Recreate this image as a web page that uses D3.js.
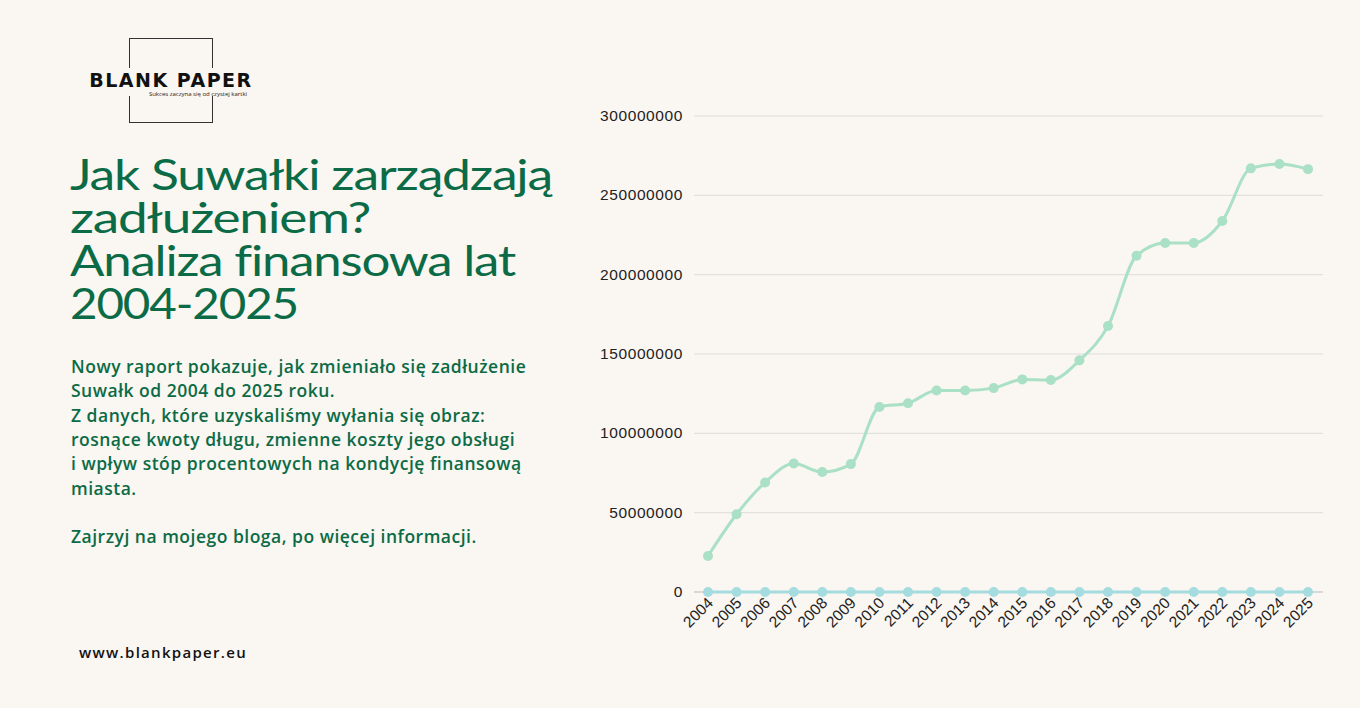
<!DOCTYPE html>
<html><head><meta charset="utf-8">
<script src="https://cdn.jsdelivr.net/npm/d3@7"></script>
<style>
body{margin:0;background:#faf6f1;width:1360px;height:708px;overflow:hidden;font-family:"Open Sans",sans-serif}
</style></head>
<body><svg id="c" width="1360" height="708"></svg>
<script>
const years = d3.range(2004, 2026).map(String);
const debt = [22.7e6,49e6,69e6,81e6,75.6e6,80.6e6,116.6e6,119e6,127e6,127e6,128.5e6,134e6,133.6e6,146e6,167.6e6,212e6,220e6,220e6,233.8e6,267e6,269.7e6,266.5e6];
const other = years.map(() => 0);
const yTicks = [0,50000000,100000000,150000000,200000000,250000000,300000000];

const svg = d3.select('#c');
const green = '#0b6b46';

// logo
svg.append('rect').attr('x',129.5).attr('y',38.5).attr('width',83).attr('height',84)
  .attr('fill','none').attr('stroke','#333').attr('stroke-width',1);
svg.append('rect').attr('x',92).attr('y',68).attr('width',158).attr('height',28).attr('fill','#faf6f1');
svg.append('text').attr('x',171).attr('y',87).attr('text-anchor','middle')
  .attr('font-family','DejaVu Sans').attr('font-weight','bold').attr('font-size',19)
  .attr('letter-spacing',1.5).attr('fill','#111').text('BLANK PAPER');
svg.append('text').attr('x',198).attr('y',96).attr('text-anchor','middle')
  .attr('font-size',6).attr('fill','#222').text('Sukces zaczyna się od czystej kartki');

// title
const title = ['Jak Suwałki zarządzają','zadłużeniem?','Analiza finansowa lat','2004-2025'];
const titleW = [482,300,445,228];
svg.append('g').selectAll('text').data(title).join('text')
  .attr('x',70).attr('y',(d,i)=>190+i*43).attr('font-size',43).attr('letter-spacing',-1)
  .attr('textLength',(d,i)=>titleW[i]).attr('lengthAdjust','spacingAndGlyphs')
  .attr('font-family','Lato').attr('fill',green).text(d=>d);

const body = ['Nowy raport pokazuje, jak zmieniało się zadłużenie','Suwałk od 2004 do 2025 roku.',
 'Z danych, które uzyskaliśmy wyłania się obraz:','rosnące kwoty długu, zmienne koszty jego obsługi',
 'i wpływ stóp procentowych na kondycję finansową','miasta.','','Zajrzyj na mojego bloga, po więcej informacji.'];
svg.append('g').selectAll('text').data(body).join('text')
  .attr('x',71).attr('y',(d,i)=>373+i*24.3).attr('font-size',17.5).attr('font-weight',600)
  .attr('letter-spacing',0.5)
  .attr('font-family','Open Sans').attr('fill',green).text(d=>d);

svg.append('text').attr('x',79).attr('y',658).attr('font-size',15).attr('font-weight',600)
  .attr('letter-spacing',1.3).attr('fill','#111').text('www.blankpaper.eu');

// chart
const x = d3.scalePoint().domain(years).range([708,1308]);
const y = d3.scaleLinear().domain([0,300000000]).range([592,116]);

svg.append('g').selectAll('line').data(yTicks).join('line')
  .attr('x1',694).attr('x2',1323).attr('y1',d=>y(d)).attr('y2',d=>y(d))
  .attr('stroke',d=>d===0?'#bbb':'#ddd');
svg.append('g').selectAll('text').data(yTicks).join('text')
  .attr('x',683).attr('y',d=>y(d)+5).attr('text-anchor','end').attr('font-size',15.5)
  .attr('letter-spacing',0.6)
  .attr('font-family','Liberation Sans').attr('fill','#222').text(d=>d);
svg.append('g').selectAll('text').data(years).join('text')
  .attr('transform',d=>`translate(${x(d)+6},${604}) rotate(-45)`).attr('text-anchor','end')
  .attr('font-size',15.5).attr('font-family','Liberation Sans').attr('fill','#222').text(d=>d);

const series = [{v:debt,c:'#a9e0c6'},{v:other,c:'#a5dcdf'}];
const line = d3.line().x((d,i)=>x(years[i])).y(d=>y(d)).curve(d3.curveMonotoneX);
series.forEach(s=>{
  svg.append('path').attr('d',line(s.v)).attr('fill','none').attr('stroke',s.c).attr('stroke-width',3);
  svg.append('g').selectAll('circle').data(s.v).join('circle')
    .attr('cx',(d,i)=>x(years[i])).attr('cy',d=>y(d)).attr('r',5).attr('fill',s.c);
});
</script></body></html>
